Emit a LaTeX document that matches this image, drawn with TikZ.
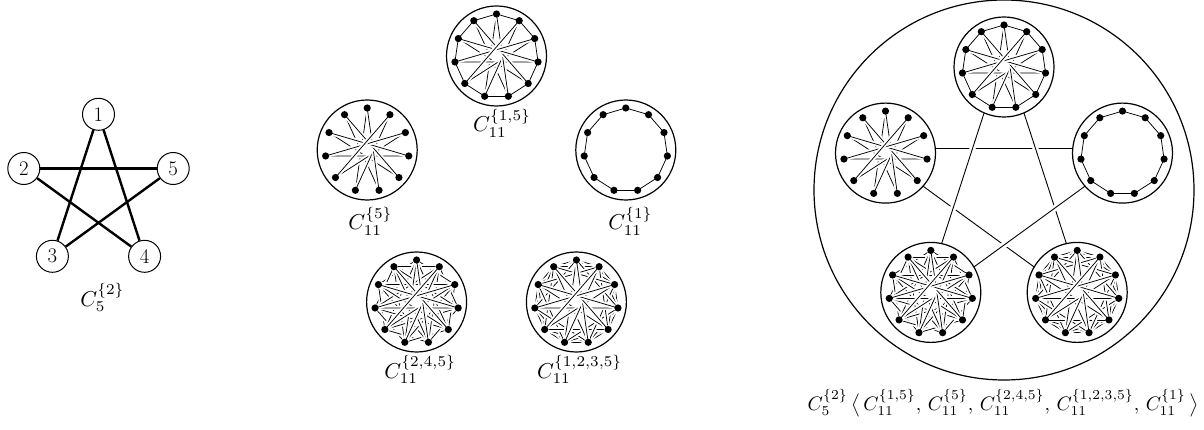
\documentclass[tikz,border=0pt]{standalone}
\usetikzlibrary{calc}
\tikzset{
  cnode/.style={circle, draw, line width=1.2pt, minimum size=100pt, inner sep=0pt, fill=white},
  pnode/.style={circle, draw, line width=1pt, minimum size=32pt, inner sep=0pt, fill=white, font=\fontsize{20.74}{24}\selectfont},
  pedge/.style={line width=2.4pt},
  cedge/.style={line width=0.75pt, preaction={draw=white, line width=4.4pt}},
  link/.style={line width=0.9pt, preaction={draw=white, line width=6pt}},
  lbl/.style={inner sep=0pt, anchor=base west, font=\fontsize{10}{12}\selectfont, scale=2.15},
}
\newcommand\circulantdraw[2]{%
  \foreach \j in {#2}{%
    \foreach \i in {0,...,10}{%
      \pgfmathtruncatemacro\kk{\i+\j}%
      \draw[cedge] ($(#1)+({-90-\i*360/11}:42)$) -- ($(#1)+({-90-\kk*360/11}:42)$);
    }%
  }%
  \foreach \i in {0,...,10}{\fill ($(#1)+({-90-\i*360/11}:42)$) circle (3.6);}%
}
\begin{document}
\begin{tikzpicture}[x=1pt,y=-1pt]
\useasboundingbox (0,0) rectangle (1204,430);
% ---- left pentagram C5^{2}
\node[pnode] (n1) at (98.5,114.3) {1};
\node[pnode] (n2) at (23.8,168.5) {2};
\node[pnode] (n5) at (173.2,168.5) {5};
\node[pnode] (n3) at (52.4,256.3) {3};
\node[pnode] (n4) at (144.6,256.3) {4};
\draw[pedge] (n1) -- (n3);
\draw[pedge] (n1) -- (n4);
\draw[pedge] (n2) -- (n4);
\draw[pedge] (n2) -- (n5);
\draw[pedge] (n3) -- (n5);
\node[lbl] (lp) at (80,306) {$C_5^{\{2\}}$};
% ---- middle circulants
\node[cnode] (m1) at (496.5,56) {};
\node[cnode] (m2) at (367.2,150) {};
\node[cnode] (m5) at (625.8,150) {};
\node[cnode] (m3) at (416.6,302) {};
\node[cnode] (m4) at (576.4,302) {};
\circulantdraw{m1}{1,5}
\circulantdraw{m2}{5}
\circulantdraw{m5}{1}
\circulantdraw{m3}{2,4,5}
\circulantdraw{m4}{1,2,3,5}
\node[lbl] (lm1) at (472.7,132) {$C_{11}^{\{1,5\}}$};
\node[lbl] (lm2) at (348,230) {$C_{11}^{\{5\}}$};
\node[lbl] (lm5) at (608,230) {$C_{11}^{\{1\}}$};
\node[lbl] (lm3) at (384,378) {$C_{11}^{\{2,4,5\}}$};
\node[lbl] (lm4) at (536.7,378) {$C_{11}^{\{1,2,3,5\}}$};
% ---- right composite
\node[circle, draw, line width=1.2pt, minimum size=380pt, inner sep=0pt] (big) at (1004,190) {};
\coordinate (q1) at (1004,51.6);
\coordinate (q2) at (870.9,148.3);
\coordinate (q5) at (1137.1,148.3);
\coordinate (q3) at (921.7,304.9);
\coordinate (q4) at (1086.3,304.9);
\draw[link] (q2) -- (q5);
\draw[link] (q2) -- (q4);
\draw[link] (q1) -- (q4);
\draw[link] (q1) -- (q3);
\draw[link] (q3) -- (q5);
\node[cnode] (r1) at (1004,67) {};
\node[cnode] (r2) at (885.5,153.1) {};
\node[cnode] (r5) at (1122.5,153.1) {};
\node[cnode] (r3) at (930.8,292.4) {};
\node[cnode] (r4) at (1077.2,292.4) {};
\circulantdraw{r1}{1,5}
\circulantdraw{r2}{5}
\circulantdraw{r5}{1}
\circulantdraw{r3}{2,4,5}
\circulantdraw{r4}{1,2,3,5}
\node[lbl, anchor=base, scale=1.95/2.15] (lr) at (1003,410) {$C_5^{\{2\}}\,\big\langle\, C_{11}^{\{1,5\}},\, C_{11}^{\{5\}},\, C_{11}^{\{2,4,5\}},\, C_{11}^{\{1,2,3,5\}},\, C_{11}^{\{1\}}\,\big\rangle$};
\end{tikzpicture}
\end{document}
